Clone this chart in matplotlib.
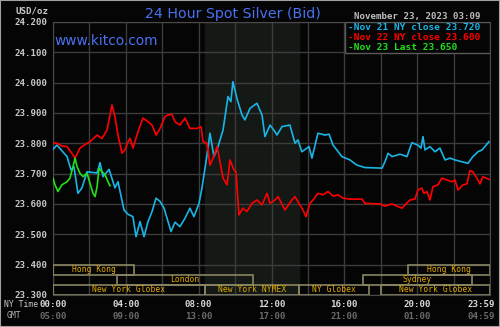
import matplotlib
matplotlib.use("Agg")
import matplotlib.pyplot as plt
from matplotlib.patches import Rectangle

# Horas NY (0-24) y precios
nov21_h = [0.00, 0.22, 0.77, 0.99, 1.15, 1.37, 1.59, 1.87, 2.42, 2.58, 2.75, 3.08, 3.40, 3.57,
           3.90, 4.12, 4.39, 4.56, 4.78, 5.00, 5.22, 5.44, 5.66, 5.88, 6.10, 6.48, 6.70, 6.97,
           7.25, 7.52, 7.74, 8.02, 8.18, 8.46, 8.62, 8.84, 9.06, 9.34, 9.61, 9.77, 9.88, 10.10,
           10.38, 10.54, 10.82, 11.20, 11.48, 11.64, 11.92, 12.19, 12.30, 12.58, 13.01, 13.29,
           13.45, 13.67, 14.06, 14.22, 14.55, 14.94, 15.16, 15.38, 15.87, 16.31, 16.69, 17.13,
           18.07, 18.23, 18.40, 18.62, 19.06, 19.44, 19.71, 20.04, 20.21, 20.32, 20.43, 20.70,
           20.98, 21.25, 21.53, 21.80, 22.08, 22.46, 22.79, 23.06, 23.34, 23.56, 23.72, 23.94]
nov21_v = [23.780, 23.794, 23.756, 23.712, 23.723, 23.635, 23.653, 23.706, 23.702, 23.736, 23.690,
           23.714, 23.653, 23.673, 23.580, 23.566, 23.558, 23.492, 23.542, 23.492, 23.542, 23.575,
           23.619, 23.608, 23.586, 23.509, 23.540, 23.525, 23.553, 23.586, 23.558, 23.602, 23.652,
           23.762, 23.833, 23.756, 23.789, 23.844, 23.954, 23.937, 24.003, 23.948, 23.893, 23.877,
           23.915, 23.932, 23.893, 23.822, 23.860, 23.838, 23.827, 23.855, 23.860, 23.800, 23.811,
           23.772, 23.789, 23.751, 23.833, 23.827, 23.830, 23.794, 23.756, 23.745, 23.728, 23.720,
           23.718, 23.739, 23.767, 23.756, 23.764, 23.756, 23.802, 23.794, 23.784, 23.822, 23.778,
           23.789, 23.772, 23.784, 23.745, 23.751, 23.745, 23.739, 23.734, 23.756, 23.772, 23.778,
           23.789, 23.805]

nov22_h = [0.00, 0.22, 0.49, 0.77, 1.04, 1.21, 1.48, 1.81, 2.03, 2.42, 2.69, 2.97, 3.24, 3.40,
           3.57, 3.79, 3.95, 4.12, 4.23, 4.39, 4.67, 4.94, 5.22, 5.44, 5.66, 5.88, 6.15, 6.32,
           6.53, 6.70, 6.97, 7.25, 7.52, 7.91, 8.13, 8.24, 8.46, 8.62, 8.79, 9.01, 9.17, 9.34,
           9.56, 9.72, 9.94, 10.05, 10.21, 10.43, 10.65, 10.93, 11.20, 11.48, 11.75, 11.92, 12.19,
           12.36, 12.74, 13.12, 13.29, 13.45, 13.73, 13.89, 14.11, 14.28, 14.55, 14.83, 15.10,
           15.38, 15.65, 15.93, 16.31, 16.97, 17.13, 17.96, 18.23, 18.62, 18.95, 19.17, 19.33,
           19.60, 19.88, 20.04, 20.26, 20.37, 20.54, 20.70, 20.87, 21.14, 21.36, 21.64, 21.91,
           22.08, 22.24, 22.52, 22.73, 22.90, 23.06, 23.28, 23.45, 23.61, 23.94]
nov22_v = [23.802, 23.800, 23.791, 23.789, 23.767, 23.751, 23.784, 23.798, 23.805, 23.827, 23.816,
           23.844, 23.926, 23.888, 23.827, 23.767, 23.778, 23.805, 23.816, 23.784, 23.838, 23.883,
           23.871, 23.860, 23.827, 23.849, 23.888, 23.893, 23.896, 23.871, 23.860, 23.883, 23.849,
           23.849, 23.855, 23.805, 23.800, 23.728, 23.751, 23.789, 23.739, 23.685, 23.663, 23.745,
           23.712, 23.706, 23.564, 23.586, 23.575, 23.602, 23.613, 23.597, 23.635, 23.602, 23.613,
           23.624, 23.580, 23.613, 23.624, 23.608, 23.580, 23.558, 23.602, 23.613, 23.635, 23.630,
           23.641, 23.626, 23.630, 23.619, 23.616, 23.616, 23.602, 23.600, 23.593, 23.600, 23.591,
           23.586, 23.597, 23.613, 23.616, 23.646, 23.652, 23.635, 23.641, 23.613, 23.657, 23.663,
           23.685, 23.679, 23.673, 23.679, 23.646, 23.663, 23.666, 23.710, 23.706, 23.685, 23.666,
           23.690, 23.681]

nov23_h = [0.00, 0.11, 0.27, 0.49, 0.77, 0.93, 1.10, 1.21, 1.32, 1.48, 1.65, 1.87, 2.03, 2.20,
           2.31, 2.42, 2.53, 2.69, 2.86, 3.02, 3.13]
nov23_v = [23.685, 23.663, 23.641, 23.663, 23.673, 23.685, 23.723, 23.751, 23.723, 23.701, 23.690,
           23.701, 23.668, 23.635, 23.624, 23.657, 23.718, 23.706, 23.696, 23.673, 23.660]

y_ticks = [23.3, 23.4, 23.5, 23.6, 23.7, 23.8, 23.9, 24.0, 24.1, 24.2]
ny_labels = ["00:00", "04:00", "08:00", "12:00", "16:00", "20:00", "23:59"]
gmt_labels = ["05:00", "09:00", "13:00", "17:00", "21:00", "01:00", "04:59"]
label_pos = [0, 4, 8, 12, 16, 20, 24]

# Sesiones: (nombre, inicio, fin, fila)
sessions = [("Hong Kong", 0, 4.45, 0), ("Hong Kong", 19.5, 24, 0),
            ("London", 3.5, 11.0, 1), ("Sydney", 17.0, 23.0, 1),
            ("New York Globex", 0, 8.33, 2), ("New York NYMEX", 8.33, 13.5, 2),
            ("NY Globex", 13.5, 17.35, 2), ("New York Globex", 18.0, 24, 2)]
legend_rows = [("-Nov 21 NY close 23.720", "#19b5e6"),
               ("-Nov 22 NY close 23.600", "#ff0000"),
               ("-Nov 23 Last 23.650", "#22e01a")]

bg = "#050505"
mono = "DejaVu Sans Mono"

fig = plt.figure(figsize=(5, 3.27), dpi=100, facecolor=bg)
ax = fig.add_axes([0.106, 0.098, 0.874, 0.835], facecolor=bg)
ax.set_xlim(0, 24)
ax.set_ylim(23.3, 24.2)

# Zona NYMEX sombreada
ax.axvspan(8.33, 13.5, color="#151915", zorder=0)

ax.set_xticks(range(0, 25, 2))
ax.set_xticklabels([])
ax.set_yticks(y_ticks)
ax.set_yticklabels(["%.3f" % v for v in y_ticks], family=mono, fontweight="bold",
                   fontsize=6.6, color="#c8c8c8")
ax.tick_params(length=0, pad=4)
ax.grid(True, color="#3c3c3c", linewidth=1, zorder=1)
for s in ax.spines.values():
    s.set_color("#4a4a4a")

ax.plot(nov21_h, nov21_v, color="#19b5e6", lw=1.2, zorder=3)
ax.plot(nov22_h, nov22_v, color="#ff0000", lw=1.2, zorder=3)
ax.plot(nov23_h, nov23_v, color="#22e01a", lw=1.2, zorder=4)

# Barras de sesiones
row_h = 0.1 / 3
for name, a, b, row in sessions:
    y0 = 23.4 - (row + 1) * row_h
    ax.add_patch(Rectangle((a, y0), b - a, row_h, fill=False, ec="#8a8662", lw=1.2, zorder=5))
    ax.text((a + b) / 2, y0 + row_h / 2, name, family=mono, fontsize=5.8, color="#e0aa00",
            ha="center", va="center", zorder=6)

# Leyenda
ax.add_patch(Rectangle((16.04, 24.098), 7.96, 0.102, fc=bg, ec="#5a5a5a", lw=1, zorder=7))
for i, (txt, col) in enumerate(legend_rows):
    ax.text(16.2, 24.180 - i * 0.032, txt, family=mono, fontweight="bold", fontsize=6.8,
            color=col, va="center", zorder=8)

# Etiquetas de horas
tr = ax.get_xaxis_transform()
for p, a, g in zip(label_pos, ny_labels, gmt_labels):
    if p == 24:
        xp, ha = 24.3, "right"
    else:
        xp, ha = p, "center"
    ax.text(xp, -0.035, a, transform=tr, family=mono, fontweight="bold", fontsize=6.6,
            color="#d8d8d8", ha=ha, va="center", clip_on=False)
    ax.text(xp, -0.078, g, transform=tr, family=mono, fontweight="bold", fontsize=6.6,
            color="#6a6a6a", ha=ha, va="center", clip_on=False)
fig.text(0.076, 0.070, "NY Time", family=mono, fontsize=5.9, color="#c8c8c8", ha="right", va="center")
fig.text(0.042, 0.034, "GMT", family=mono, fontsize=5.9, color="#b0b0b0", ha="right", va="center")

fig.text(0.032, 0.966, "USD/oz", family=mono, fontweight="bold", fontsize=6.6, color="#c8c8c8", va="center")
fig.text(0.465, 0.958, "24 Hour Spot Silver (Bid)", fontsize=10.2, color="#4a72f0",
         ha="center", va="center")
fig.text(0.708, 0.951, "November 23, 2023 03:09", family=mono, fontweight="bold", fontsize=6.6,
         color="#bdbdbd", va="center")
fig.text(0.108, 0.875, "www.kitco.com", fontsize=9.9, color="#4a72f0", va="center")

# Borde gris de la figura
fig.patches.append(Rectangle((0, 0), 1, 1, transform=fig.transFigure, fill=False,
                             ec="#a0a0a0", lw=1.5))

fig.savefig("out.png", dpi=100, facecolor=bg)
